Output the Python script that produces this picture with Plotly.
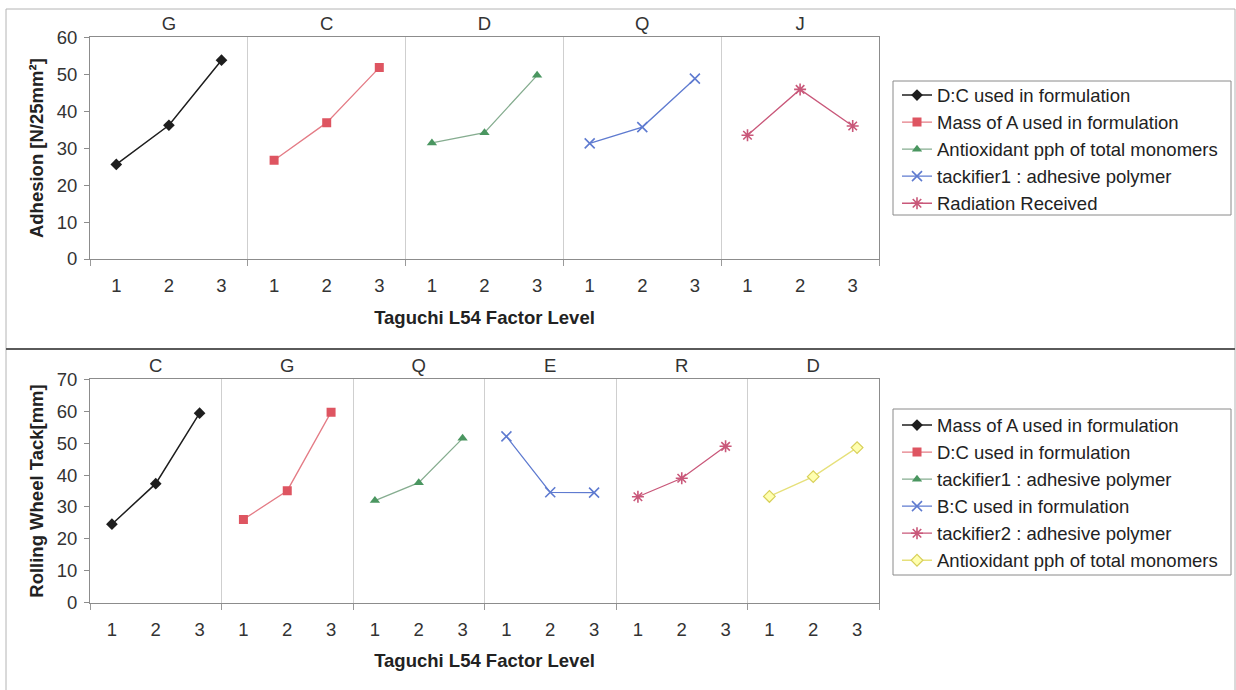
import plotly.graph_objects as go

W, H = 1236, 690

# ---------------- data ----------------
levels = ["1", "2", "3"]

top_groups = ["G", "C", "D", "Q", "J"]
top_names = ["D:C used in formulation", "Mass of A used in formulation",
             "Antioxidant pph of total monomers", "tackifier1 : adhesive polymer",
             "Radiation Received"]
adh_G = [25.6, 36.2, 53.8]
adh_C = [26.7, 36.9, 51.8]
adh_D = [31.4, 34.2, 49.7]
adh_Q = [31.3, 35.7, 48.8]
adh_J = [33.5, 45.9, 36.0]
top_values = [adh_G, adh_C, adh_D, adh_Q, adh_J]

bot_groups = ["C", "G", "Q", "E", "R", "D"]
bot_names = ["Mass of A used in formulation", "D:C used in formulation",
             "tackifier1 : adhesive polymer", "B:C used in formulation",
             "tackifier2 : adhesive polymer", "Antioxidant pph of total monomers"]
tack_C = [24.6, 37.3, 59.4]
tack_G = [26.1, 35.1, 59.7]
tack_Q = [32.0, 37.6, 51.5]
tack_E = [52.1, 34.6, 34.5]
tack_R = [33.2, 39.0, 49.0]
tack_D = [33.3, 39.5, 48.6]
bot_values = [tack_C, tack_G, tack_Q, tack_E, tack_R, tack_D]

# ---------------- styles ----------------
styles = [
    dict(line="#1e1e1e", lw=1.5, marker=dict(symbol="diamond", size=9, color="#1e1e1e")),
    dict(line="#e47c86", lw=1.3, marker=dict(symbol="square", size=9, color="#de5561")),
    dict(line="#86ad90", lw=1.3, marker=dict(symbol="triangle-up", size=9, color="#4a9660")),
    dict(line="#5f7bd0", lw=1.3, marker=dict(symbol="x-thin-open", size=10,
                                              line=dict(width=1.6, color="#4462c4"))),
    dict(line="#c9587a", lw=1.3, marker=dict(symbol="asterisk-open", size=10,
                                              line=dict(width=1.6, color="#c23463"))),
    dict(line="#e6e07a", lw=1.3, marker=dict(symbol="diamond", size=9, color="#ffffb0",
                                              line=dict(width=1.2, color="#d8d05a"))),
]

FONT = "Liberation Sans, Arial, sans-serif"
FS = 18.5
TXT = "#333333"

fig = go.Figure()


def add_panel(groups, names, values, xa, ya, legend):
    for g, (name, vals) in enumerate(zip(names, values)):
        st = styles[g]
        xs = [g * 3 + i for i in range(len(levels))]
        fig.add_trace(go.Scatter(
            x=xs, y=vals, name=name, mode="lines+markers",
            line=dict(color=st["line"], width=st["lw"]),
            marker=st["marker"], xaxis=xa, yaxis=ya, legend=legend,
            hoverinfo="name+y"))


add_panel(top_groups, top_names, top_values, "x", "y", "legend")
add_panel(bot_groups, bot_names, bot_values, "x4", "y2", "legend2")

# dummy traces so overlay axes are drawn
for xa, ya in [("x2", "y"), ("x3", "y"), ("x5", "y2"), ("x6", "y2")]:
    fig.add_trace(go.Scatter(x=[None], y=[None], xaxis=xa, yaxis=ya,
                             showlegend=False, hoverinfo="skip"))

xdom = [90 / W, 879 / W]
ydom_top = [1 - 259 / H, 1 - 37.3 / H]
ydom_bot = [1 - 602.7 / H, 1 - 379.3 / H]


def main_x(n, ydomanchor, title):
    return dict(domain=xdom, anchor=ydomanchor, range=[-0.5, 3 * n - 0.5], automargin=False,
                tickmode="array", tickvals=list(range(3 * n)), ticktext=levels * n,
                ticks="", showgrid=False, zeroline=False,
                showline=True, linecolor="#8c8c8c", linewidth=1, mirror=True,
                tickfont=dict(family=FONT, size=FS, color=TXT),
                ticklabelstandoff=10,
                title=dict(text=title, font=dict(family=FONT, size=FS, color="#222222",
                                                 weight="bold"), standoff=15))


def sep_x(n, over, ydomanchor):
    return dict(domain=xdom, anchor=ydomanchor, overlaying=over, range=[-0.5, 3 * n - 0.5],
                automargin=False,
                tickmode="array", tickvals=[3 * k - 0.5 for k in range(n + 1)],
                showticklabels=False, ticks="outside", ticklen=6, tickcolor="#9a9a9a",
                showgrid=True, gridcolor="#cfcfcf", gridwidth=1, zeroline=False,
                showline=False)


def grp_x(n, groups, over, ydomanchor):
    return dict(domain=xdom, anchor=ydomanchor, overlaying=over, side="top",
                range=[-0.5, 3 * n - 0.5], automargin=False,
                tickmode="array", tickvals=[3 * k + 1 for k in range(n)], ticktext=groups,
                ticks="", showgrid=False, zeroline=False, showline=False,
                ticklabelstandoff=3,
                tickfont=dict(family=FONT, size=FS, color=TXT))


def main_y(dom, rng, xanchor, title):
    return dict(domain=dom, anchor=xanchor, range=rng, tickmode="linear", tick0=0, dtick=10,
                automargin=False,
                ticks="outside", ticklen=5, tickcolor="#8c8c8c",
                showgrid=False, zeroline=False,
                showline=True, linecolor="#8c8c8c", linewidth=1, mirror=True,
                tickfont=dict(family=FONT, size=FS, color=TXT),
                ticklabelstandoff=3,
                title=dict(text=title, font=dict(family=FONT, size=FS, color="#222222",
                                                 weight="bold"), standoff=8))


legend_common = dict(xanchor="left", yanchor="top", bgcolor="rgba(0,0,0,0)",
                     borderwidth=0,
                     font=dict(family=FONT, size=FS, color="#222222"),
                     traceorder="normal", itemclick=False, itemdoubleclick=False)


def box(x0, y0, x1, y1, color, layer="below"):
    return dict(type="rect", xref="paper", yref="paper", x0=x0 / W, x1=x1 / W,
                y0=1 - y1 / H, y1=1 - y0 / H, line=dict(color=color, width=1),
                fillcolor="white", layer=layer)


fig.update_layout(
    width=W, height=H, margin=dict(l=0, r=0, t=0, b=0, autoexpand=False),
    paper_bgcolor="white", plot_bgcolor="white",
    showlegend=True,
    xaxis=main_x(5, "y", "Taguchi L54 Factor Level"),
    xaxis2=sep_x(5, "x", "y"),
    xaxis3=grp_x(5, top_groups, "x", "y"),
    yaxis=main_y(ydom_top, [0, 60], "x", "Adhesion [N/25mm²]"),
    xaxis4=main_x(6, "y2", "Taguchi L54 Factor Level"),
    xaxis5=sep_x(6, "x4", "y2"),
    xaxis6=grp_x(6, bot_groups, "x4", "y2"),
    yaxis2=main_y(ydom_bot, [0, 70], "x4", "Rolling Wheel Tack[mm]"),
    legend=dict(x=897 / W, y=1 - 76.5 / H, **legend_common),
    legend2=dict(x=897 / W, y=1 - 406.5 / H, **legend_common),
    shapes=[
        dict(type="rect", xref="paper", yref="paper", x0=6 / W, x1=1235 / W,
             y0=1 - 349 / H, y1=1 - 9 / H, line=dict(color="#b4b4b4", width=1), layer="below"),
        dict(type="rect", xref="paper", yref="paper", x0=6 / W, x1=1235 / W,
             y0=-0.02, y1=1 - 349 / H, line=dict(color="#b4b4b4", width=1), layer="below"),
        dict(type="line", xref="paper", yref="paper", x0=6 / W, x1=1235 / W,
             y0=1 - 349 / H, y1=1 - 349 / H, line=dict(color="#5a5a5a", width=2)),
        box(893, 81, 1231, 215, "#8a8a8a"),
        box(893, 409, 1231, 575, "#8a8a8a"),
    ],
)

fig.write_html("out.html")
